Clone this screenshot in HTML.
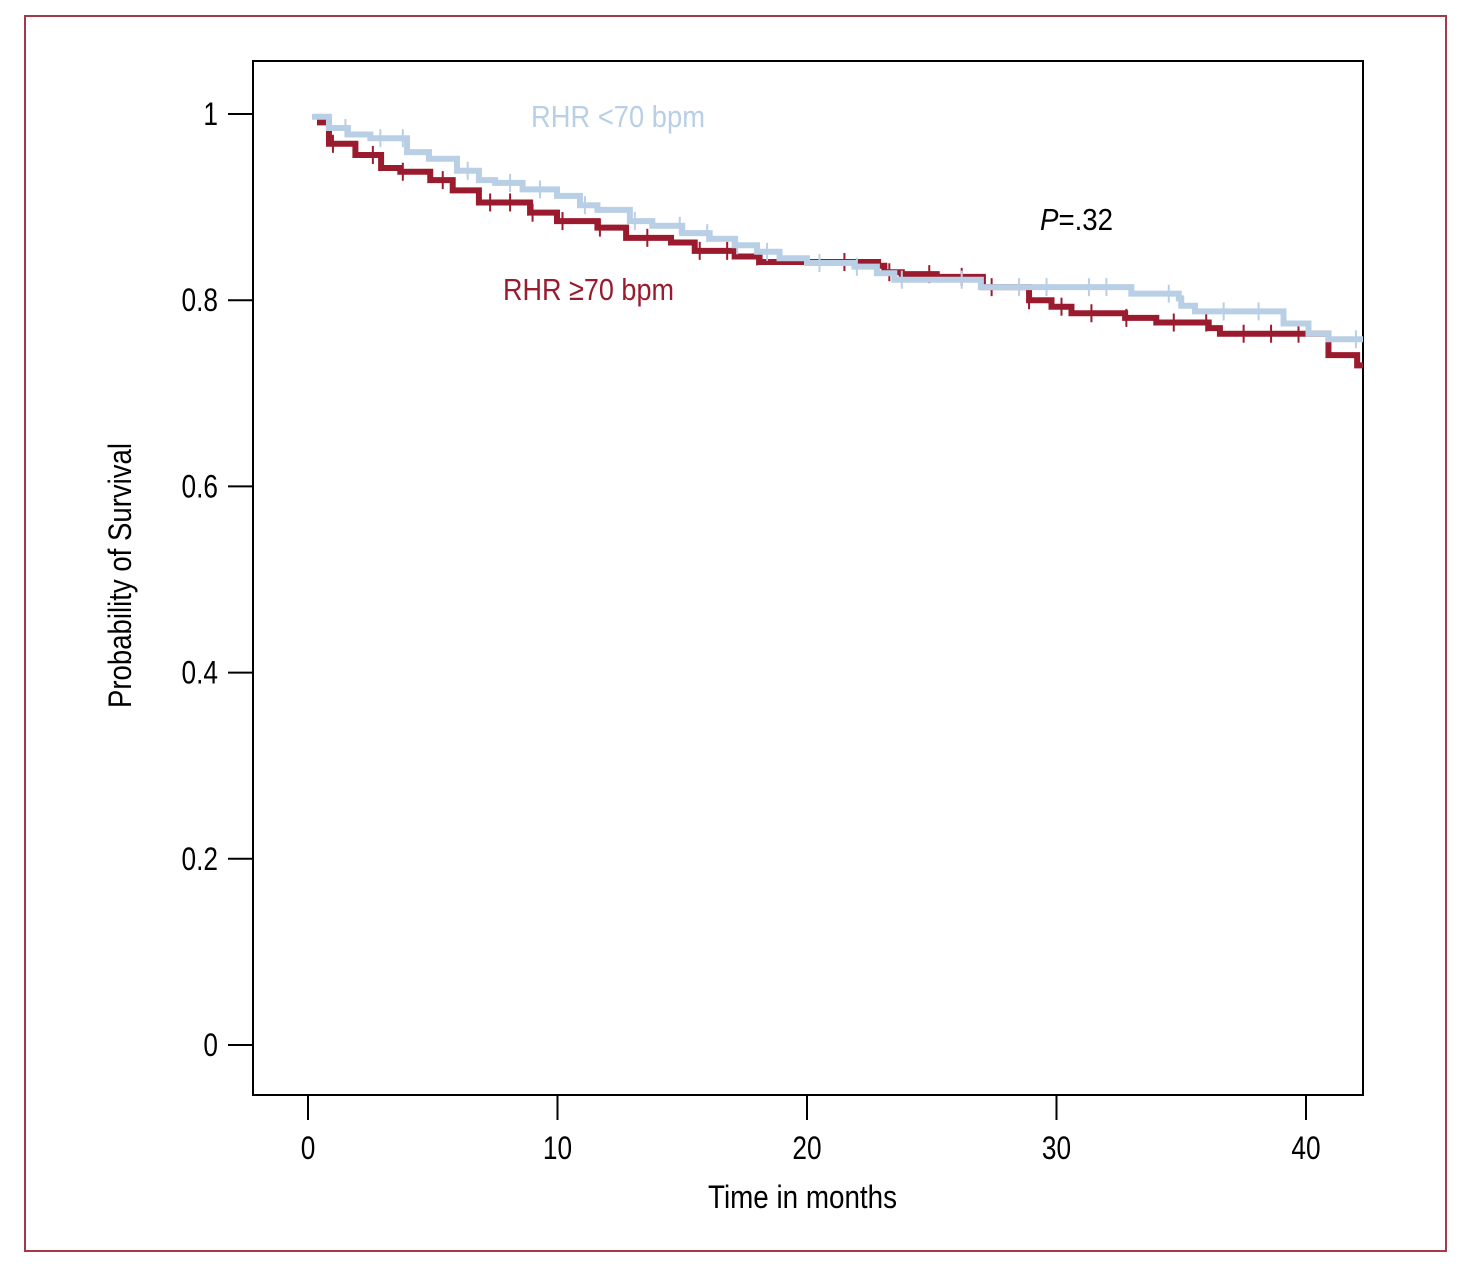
<!DOCTYPE html>
<html><head><meta charset="utf-8"><style>
body{margin:0;background:#fff;}
svg text{font-family:"Liberation Sans Narrow","Liberation Sans",sans-serif;}
</style></head><body>
<svg width="1466" height="1283" viewBox="0 0 1466 1283" xmlns="http://www.w3.org/2000/svg">
<rect x="25" y="16" width="1421" height="1235" fill="none" stroke="#a23a4a" stroke-width="2"/>
<rect x="253" y="61" width="1110" height="1034" fill="none" stroke="#000" stroke-width="2"/>
<g id="axes"></g>
<g id="series"></g>
<text x="531" y="127" font-size="31" fill="#b8cfe6" textLength="174" lengthAdjust="spacingAndGlyphs">RHR &lt;70 bpm</text>
<text x="503" y="300" font-size="31" fill="#9b1b2e" textLength="171" lengthAdjust="spacingAndGlyphs">RHR ≥70 bpm</text>
<text x="1040" y="230" font-size="31" fill="#000" textLength="73" lengthAdjust="spacingAndGlyphs"><tspan font-style="italic">P</tspan>=.32</text>
<text x="708" y="1208" font-size="32" textLength="189" lengthAdjust="spacingAndGlyphs">Time in months</text>
<text transform="translate(131,708) rotate(-90)" x="0" y="0" font-size="32" textLength="265" lengthAdjust="spacingAndGlyphs">Probability of Survival</text>
</svg>
<script>
const xTicks=[0,10,20,30,40];
const yTicks=[0,0.2,0.4,0.6,0.8,1];
const yTickLabels=["0","0.2","0.4","0.6","0.8","1"];
const lowTimes=[0.16,0.84,1.6,2.5,3.97,4.85,5.97,6.85,7.5,8.6,9.98,10.9,11.6,12.9,13.8,15.0,16.1,17.1,18.0,18.9,20.0,21.9,22.8,23.5,26.97,33.0,34.9,35.0,35.55,39.1,40.1,40.9];
const lowSurv=[0.997,0.985,0.978,0.974,0.959,0.952,0.939,0.929,0.926,0.919,0.912,0.902,0.897,0.885,0.880,0.872,0.866,0.859,0.852,0.845,0.840,0.836,0.829,0.822,0.814,0.807,0.802,0.794,0.788,0.775,0.764,0.758];
const highTimes=[0.36,0.84,1.9,2.93,3.7,4.9,5.8,6.85,8.9,9.98,11.6,12.75,14.55,15.5,17.1,18.1,22.85,23.1,23.8,25.2,27.05,28.9,29.8,30.6,32.75,34.0,36.1,36.55,40.9,42.05];
const highSurv=[0.991,0.968,0.956,0.942,0.938,0.929,0.918,0.905,0.894,0.885,0.878,0.867,0.862,0.853,0.847,0.841,0.837,0.830,0.828,0.825,0.814,0.800,0.793,0.786,0.781,0.776,0.770,0.764,0.741,0.730];
const lowCensor=[1.5,2.9,3.8,6.4,8.1,9.3,11.1,13.1,14.9,16.0,17.2,18.4,20.5,22.0,23.8,26.2,28.5,29.6,31.3,32.0,34.5,36.7,38.1,42.0];
const highCensor=[1.0,2.6,3.8,5.4,7.3,8.1,9.0,10.2,11.7,13.6,15.7,16.8,18.0,21.5,23.3,24.9,26.2,27.4,28.9,30.2,31.4,32.8,34.7,36.0,37.5,38.6,39.7];
const endTime=42.3;
const X=t=>308+t*24.95, Y=p=>1045-p*931;
const NS="http://www.w3.org/2000/svg";
function mk(tag,attrs,parent){const e=document.createElementNS(NS,tag);for(const k in attrs)e.setAttribute(k,attrs[k]);parent.appendChild(e);return e;}
const axes=document.getElementById('axes'), ser=document.getElementById('series');
xTicks.forEach(v=>{
 const l=mk('line',{x1:X(v),x2:X(v),y1:1095,y2:1120,stroke:'#000','stroke-width':2},axes);
 
 
 const t=mk('text',{transform:'translate('+X(v)+',1159) scale(0.82,1)','font-size':32,'text-anchor':'middle'},axes);t.textContent=v;
 
 
});
yTicks.forEach((v,i)=>{
 const l=mk('line',{x1:228,x2:253,y1:Y(v),y2:Y(v),stroke:'#000','stroke-width':2},axes);
 
 
 const t=mk('text',{transform:'translate(218,'+(Y(v)+11)+') scale(0.82,1)','font-size':32,'text-anchor':'end'},axes);t.textContent=yTickLabels[i];
 
 
});
function survAt(times,surv,t){let s=surv[0];for(let i=0;i<times.length;i++){if(times[i]<=t)s=surv[i];}return s;}
function draw(times,surv,cens,color,name){
 let d='M'+X(times[0])+','+Y(surv[0]);
 for(let i=1;i<times.length;i++){d+='H'+X(times[i])+'V'+Y(surv[i]);}
 d+='H'+Math.min(X(endTime),1363);
 const p=mk('path',{d:d,fill:'none',stroke:color,'stroke-width':6},ser);
 
 
 cens.forEach(c=>{
  const y=Y(survAt(times,surv,c));
  const l=mk('line',{x1:X(c),x2:X(c),y1:y-9,y2:y+9,stroke:color,'stroke-width':2},ser);
  
  
 });
}
draw(highTimes,highSurv,highCensor,'#9b1b2e','rhr-above-70');
draw(lowTimes,lowSurv,lowCensor,'#b8cfe6','rhr-below-70');
</script>
</body></html>
